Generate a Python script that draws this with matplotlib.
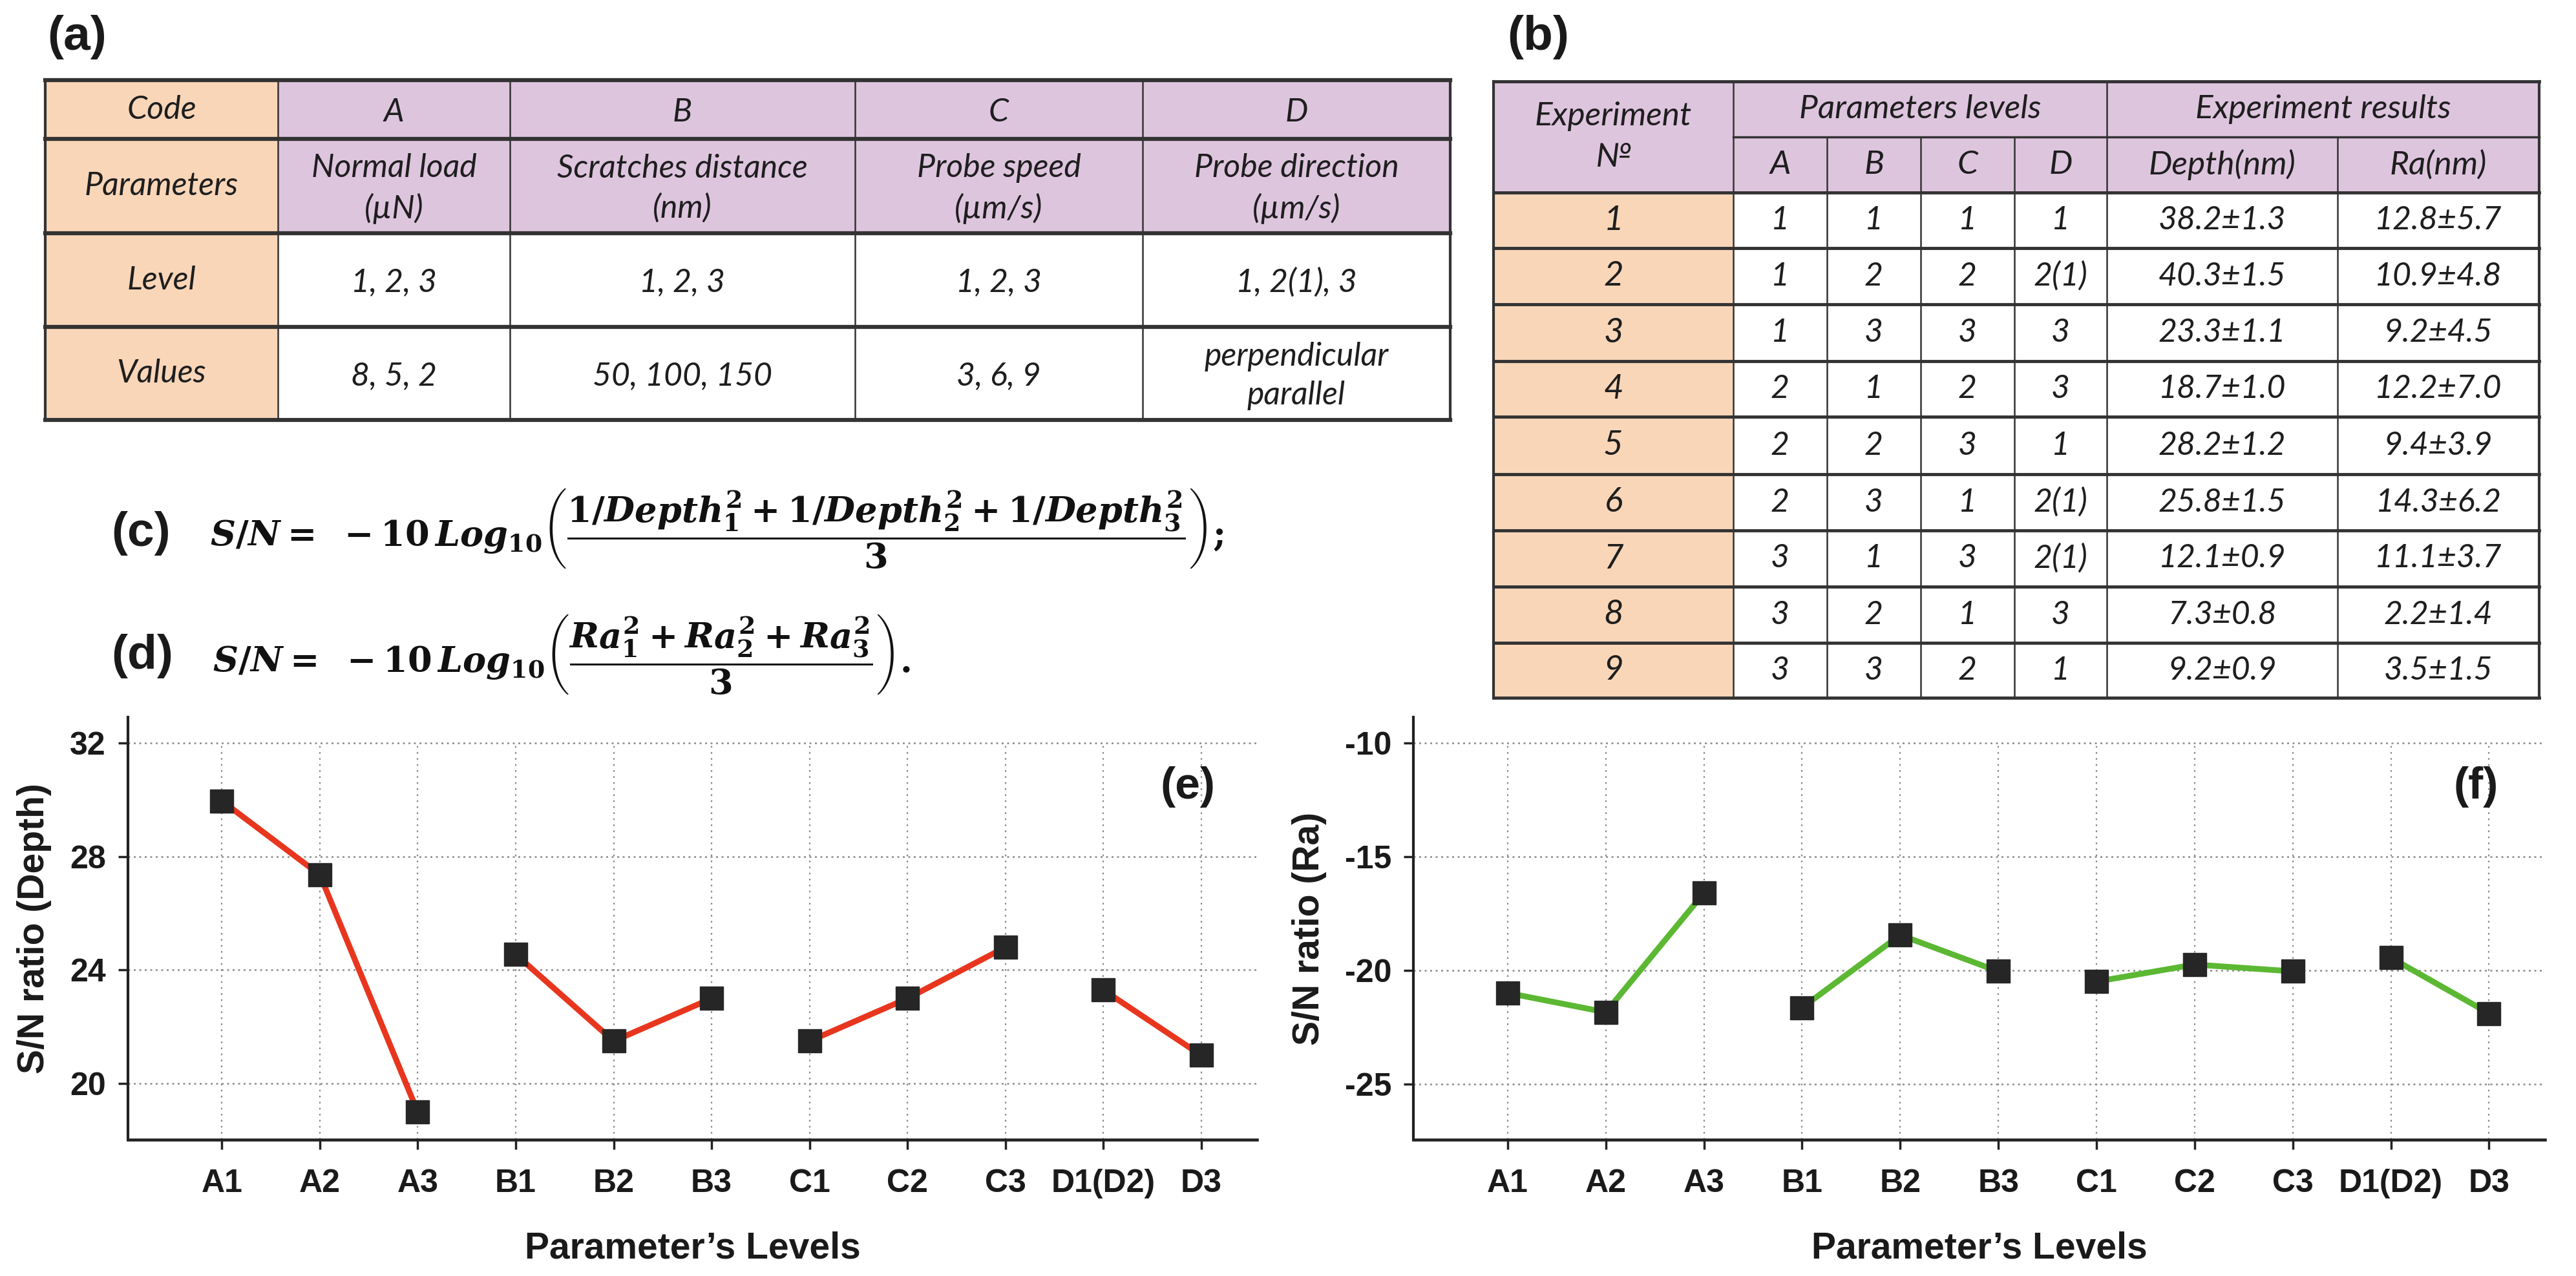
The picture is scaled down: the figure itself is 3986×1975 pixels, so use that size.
import matplotlib
matplotlib.use('Agg')
import matplotlib.pyplot as plt
from matplotlib.patches import Rectangle

W, H = 3986, 1975
DPI = 100

# (a) parameters table
row_heads = ['Code', 'Parameters', 'Level', 'Values']
code_cols = ['A', 'B', 'C', 'D']
param_names = ['Normal load\n(µN)', 'Scratches distance\n(nm)', 'Probe speed\n(µm/s)', 'Probe direction\n(µm/s)']
level_vals = ['1, 2, 3', '1, 2, 3', '1, 2, 3', '1, 2(1), 3']
value_vals = ['8, 5, 2', '50, 100, 150', '3, 6, 9', 'perpendicular\nparallel']

# (b) experiment table
exp_no = ['1', '2', '3', '4', '5', '6', '7', '8', '9']
lev_A = ['1', '1', '1', '2', '2', '2', '3', '3', '3']
lev_B = ['1', '2', '3', '1', '2', '3', '1', '2', '3']
lev_C = ['1', '2', '3', '2', '3', '1', '3', '1', '2']
lev_D = ['1', '2(1)', '3', '3', '1', '2(1)', '2(1)', '3', '1']
depth = ['38.2±1.3', '40.3±1.5', '23.3±1.1', '18.7±1.0', '28.2±1.2', '25.8±1.5', '12.1±0.9', '7.3±0.8', '9.2±0.9']
ra = ['12.8±5.7', '10.9±4.8', '9.2±4.5', '12.2±7.0', '9.4±3.9', '14.3±6.2', '11.1±3.7', '2.2±1.4', '3.5±1.5']

# (c), (d) formulas
formula_c = r'$S/N=\ -10\,Log_{10}\left(\dfrac{1/Depth_1^2+1/Depth_2^2+1/Depth_3^2}{3}\right);$'
formula_d = r'$S/N=\ -10\,Log_{10}\left(\dfrac{Ra_1^2+Ra_2^2+Ra_3^2}{3}\right).$'

# (e), (f) S/N ratios
level_labels = ['A1', 'A2', 'A3', 'B1', 'B2', 'B3', 'C1', 'C2', 'C3', 'D1(D2)', 'D3']
group_sizes = [3, 3, 3, 2]
sn_depth = [29.95, 27.35, 19.0, 24.55, 21.5, 23.0, 21.5, 23.0, 24.8, 23.3, 21.0]
sn_ra = [-21.0, -21.85, -16.6, -21.65, -18.45, -20.05, -20.5, -19.75, -20.05, -19.45, -21.9]

PEACH = '#f9d6b8'
LAVENDER = '#dec5de'
INK = '#1e1e1e'

plt.rcParams['axes.unicode_minus'] = False
plt.rcParams['mathtext.fontset'] = 'custom'
plt.rcParams['mathtext.it'] = 'DejaVu Serif:italic:bold'
plt.rcParams['mathtext.rm'] = 'DejaVu Serif:bold'
plt.rcParams['mathtext.bf'] = 'DejaVu Serif:bold'

fig = plt.figure(figsize=(W / DPI, H / DPI), dpi=DPI)
fig.patch.set_facecolor('white')

# overlay in pixel coordinates for the tables and formulas
ov = fig.add_axes([0, 0, 1, 1])
ov.set_xlim(0, W)
ov.set_ylim(H, 0)
ov.axis('off')

tfont = dict(family=['Lato', 'DejaVu Sans'], style='italic', color=INK, ha='center', va='center')
lab = dict(family='Liberation Sans', fontweight='bold', fontsize=54, color='#1a1a1a', va='center', ha='left')


def fill(x0, y0, x1, y1, c):
    ov.add_patch(Rectangle((x0, y0), x1 - x0, y1 - y0, facecolor=c, edgecolor='none', zorder=1))


def hline(y, x0, x1, lw=4):
    ov.plot([x0, x1], [y, y], color='#333333', lw=lw, solid_capstyle='projecting', zorder=2)


def vline(x, y0, y1, lw=2):
    ov.plot([x, x], [y0, y1], color='#333333', lw=lw, solid_capstyle='projecting', zorder=2)


# ---- table (a)
xa = [70, 430, 789, 1323, 1768, 2244]
ya = [124, 215, 361, 506, 650]
cols_a = [code_cols, param_names, level_vals, value_vals]
for r in range(4):
    fill(xa[0], ya[r], xa[1], ya[r + 1], PEACH)
    ov.text((xa[0] + xa[1]) / 2, (ya[r] + ya[r + 1]) / 2, row_heads[r], fontsize=36, **tfont)
    for c in range(4):
        if r < 2:
            fill(xa[c + 1], ya[r], xa[c + 2], ya[r + 1], LAVENDER)
        ov.text((xa[c + 1] + xa[c + 2]) / 2, (ya[r] + ya[r + 1]) / 2 + 4, cols_a[r][c],
                fontsize=36, linespacing=1.4, **tfont)
for y in ya:
    hline(y, xa[0], xa[-1], lw=4.5)
for i, x in enumerate(xa):
    vline(x, ya[0], ya[-1], lw=3 if i in (0, len(xa) - 1) else 1.8)

# ---- table (b)
xb = [2311, 2682, 2827, 2972, 3117, 3260, 3617, 3929]
yb = [126, 212, 298, 384, 471, 559, 645, 734, 821, 908, 995, 1080]
fill(xb[0], yb[0], xb[-1], yb[2], LAVENDER)
ov.text((xb[0] + xb[1]) / 2, (yb[0] + yb[2]) / 2, 'Experiment\n№', fontsize=37, linespacing=1.5, **tfont)
ov.text((xb[1] + xb[5]) / 2, (yb[0] + yb[1]) / 2, 'Parameters levels', fontsize=37, **tfont)
ov.text((xb[5] + xb[7]) / 2, (yb[0] + yb[1]) / 2, 'Experiment results', fontsize=37, **tfont)
sub_heads = ['A', 'B', 'C', 'D', 'Depth(nm)', 'Ra(nm)']
for c, s in enumerate(sub_heads):
    ov.text((xb[c + 1] + xb[c + 2]) / 2, (yb[1] + yb[2]) / 2, s, fontsize=37, **tfont)
cols_b = [exp_no, lev_A, lev_B, lev_C, lev_D, depth, ra]
for r in range(9):
    y0, y1 = yb[r + 2], yb[r + 3]
    fill(xb[0], y0, xb[1], y1, PEACH)
    for c in range(7):
        ov.text((xb[c] + xb[c + 1]) / 2, (y0 + y1) / 2, cols_b[c][r],
                fontsize=38 if c == 0 else 36, **tfont)
for i, y in enumerate(yb):
    if i == 1:
        hline(y, xb[1], xb[-1], lw=2.5)
    else:
        hline(y, xb[0], xb[-1], lw=3.5)
for i, x in enumerate(xb):
    if i in (0, 7):
        vline(x, yb[0], yb[-1], lw=3)
    elif i in (1, 5):
        vline(x, yb[0], yb[-1], lw=1.8)
    else:
        vline(x, yb[1], yb[-1], lw=1.8)

# ---- labels and formulas
ov.text(73, 58, '(a)', **lab)
ov.text(2332, 58, '(b)', **lab)
ov.text(172, 826, '(c)', **lab)
ov.text(172, 1015, '(d)', **lab)
ov.text(325, 818, formula_c, fontsize=39, ha='left', va='center', color='#111111')
ov.text(329, 1013, formula_d, fontsize=39, ha='left', va='center', color='#111111')


# ---- plots (e), (f)
def px_axes(l, t, r, b):
    return fig.add_axes([l / W, 1 - b / H, (r - l) / W, (b - t) / H])


def draw_panel(ax, vals, color, ylim, yticks, ylabel, tag):
    x = list(range(len(level_labels)))
    ax.vlines(x, ylim[0], yticks[-1], colors='#8c8c8c', lw=1.6, linestyles=(0, (1.2, 3)), zorder=0)
    ax.grid(axis='y', color='#8c8c8c', lw=1.8, ls=(0, (1.2, 2.2)), zorder=0)
    start = 0
    for n in group_sizes:
        ax.plot(x[start:start + n], vals[start:start + n], color=color, lw=6.5,
                marker='s', ms=26, mfc='#262626', mec='#262626', zorder=3)
        start += n
    ax.set_xlim(-0.96, 10.57)
    ax.set_ylim(*ylim)
    ax.set_xticks(x, level_labels)
    ax.set_yticks(yticks)
    ax.set_axisbelow(True)
    for s in ('top', 'right'):
        ax.spines[s].set_visible(False)
    ax.spines['left'].set_linewidth(3)
    ax.spines['bottom'].set_linewidth(3.3)
    ax.spines['left'].set_color('#222222')
    ax.spines['bottom'].set_color('#222222')
    ax.tick_params(axis='both', length=10.5, width=2.5, color='#222222', labelsize=36)
    ax.tick_params(axis='y', pad=14)
    ax.tick_params(axis='x', pad=22)
    for t in ax.get_xticklabels() + ax.get_yticklabels():
        t.set_family('Liberation Sans')
        t.set_fontweight('bold')
        t.set_color('#1a1a1a')
    ax.set_ylabel(ylabel, fontsize=41, fontweight='bold', family='Liberation Sans', labelpad=20, color='#1a1a1a')
    ax.set_xlabel('Parameter’s Levels', fontsize=41, fontweight='bold', family='Liberation Sans',
                  labelpad=36, color='#1a1a1a')
    ax.text(0.939, 0.835, tag, transform=ax.transAxes, fontsize=50, fontweight='bold',
            family='Liberation Sans', ha='center', va='center', color='#1a1a1a')


ax_e = px_axes(198, 1110, 1945, 1764)
draw_panel(ax_e, sn_depth, '#e8361e', (18.03, 32.9), [20, 24, 28, 32], 'S/N ratio (Depth)', '(e)')

ax_f = px_axes(2187, 1110, 3938, 1764)
draw_panel(ax_f, sn_ra, '#5cb833', (-27.46, -8.86), [-25, -20, -15, -10], 'S/N ratio (Ra)', '(f)')

fig.savefig('out.png', dpi=DPI, facecolor='white')
